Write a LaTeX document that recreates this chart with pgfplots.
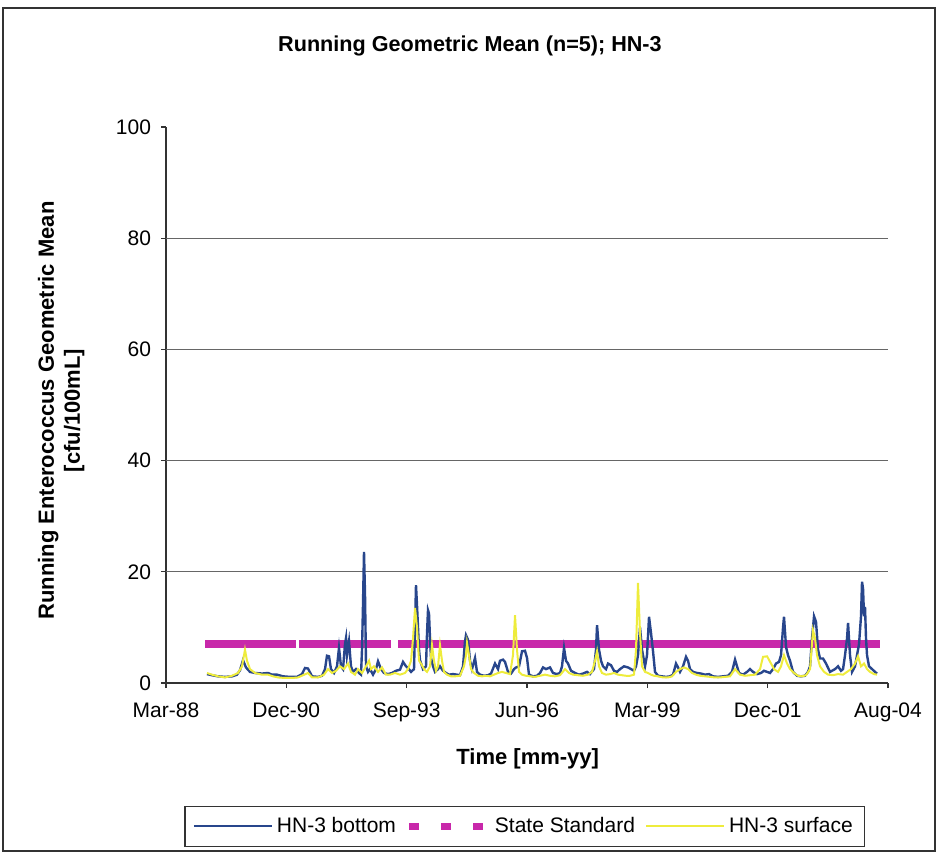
\documentclass[border=0pt]{standalone}
\usepackage{pgfplots}
\pgfplotsset{compat=1.18}
\usepackage{fontspec}
\setmainfont{Liberation Sans}
\definecolor{hnblue}{RGB}{40,70,140}
\definecolor{hnyellow}{RGB}{238,236,60}
\definecolor{stdmag}{RGB}{200,40,170}
\begin{document}
\begin{tikzpicture}
\useasboundingbox (-83bp,-85bp) rectangle (386bp,341.5bp);
\draw[line width=0.8bp, black!80] (-81.5bp,-84bp) rectangle (384.5bp,337.5bp);
\begin{axis}[
  at={(0,0)}, anchor=south west,
  scale only axis, width=361bp, height=278bp,
  xmin=1988.227, xmax=2004.654, ymin=0, ymax=100,
  xtick={1988.227,1990.965,1993.703,1996.441,1999.178,2001.916,2004.654},
  xticklabels={Mar-88,Dec-90,Sep-93,Jun-96,Mar-99,Dec-01,Aug-04},
  ytick={0,20,40,60,80,100},
  extra y ticks={20,40,60,80}, extra y tick labels={},
  extra y tick style={grid=major},
  axis x line*=bottom, axis y line*=left,
  tick align=outside, major tick length=2.5bp,
  tick style={black!80, line width=0.6bp},
  axis line style={black!80, line width=0.6bp},
  grid style={black!60, line width=0.5bp},
  tick label style={font=\fontsize{10.5bp}{12bp}\selectfont},
  /pgf/number format/assume math mode=true,
  yticklabel style={xshift=-1.5bp},
  xticklabel style={yshift=-4bp},
  title={Running Geometric Mean (n=5); HN-3},
  title style={at={(axis description cs:0.421,1.124)}, anchor=center,
    font=\bfseries\fontsize{10.8bp}{13bp}\selectfont},
  xlabel={Time [mm-yy]},
  xlabel style={at={(axis description cs:0.501,-0.136)}, anchor=center,
    font=\bfseries\fontsize{11bp}{13bp}\selectfont},
  ylabel={Running Enterococcus Geometric Mean\\{[cfu/100mL]}},
  ylabel style={at={(axis description cs:-0.145,0.49)}, anchor=center,
    align=center, font=\bfseries\fontsize{11bp}{13bp}\selectfont},
  legend columns=3,
  legend style={at={(axis description cs:0.497,-0.258)}, anchor=center,
    draw=black!80, line width=0.6bp, inner xsep=4bp, inner ysep=3.5bp,
    font=\fontsize{10.5bp}{12bp}\selectfont,
    /tikz/every even column/.append style={column sep=3bp}},
  legend image code/.code={\draw[#1] (0bp,0bp) -- (39bp,0bp);},
  unbounded coords=jump,
]
% State Standard (7 cfu/100mL)
\addplot[stdmag, line width=3.8bp, forget plot] coordinates {
  (1989.117,7) (1991.188,7) (1991.2,nan) (1991.256,7) (1993.349,7)
  (1993.4,nan) (1993.508,7) (2004.474,7)};
\addlegendimage{hnblue, line width=1bp}
\addlegendentry{HN-3 bottom}
\addlegendimage{stdmag, line width=3.5bp, dash pattern=on 5bp off 11bp}
\addlegendentry{State Standard}
\addlegendimage{hnyellow, line width=1bp}
\addlegendentry{HN-3 surface}
% HN-3 bottom
\addplot[hnblue, line width=1.2bp, forget plot] coordinates {
(1989.160,1.6) (1989.274,1.4) (1989.410,1.2) (1989.569,1.1) (1989.729,1.2)
(1989.842,1.5) (1989.911,2.3) (1989.979,4.1) (1990.047,2.8) (1990.138,2.0)
(1990.252,1.8) (1990.411,1.7) (1990.548,1.8) (1990.639,1.5) (1990.753,1.5)
(1990.889,1.2) (1991.048,1.1) (1991.208,1.1) (1991.321,1.6) (1991.390,2.7)
(1991.458,2.6) (1991.549,1.2) (1991.686,1.1) (1991.777,1.3) (1991.845,2.5)
(1991.890,4.9) (1991.936,4.8) (1991.981,2.5) (1992.050,1.8) (1992.118,3.0)
(1992.163,6.3) (1992.209,3.0) (1992.254,2.5) (1992.300,7.0) (1992.323,8.1)
(1992.345,5.0) (1992.391,7.5) (1992.436,3.0) (1992.482,2.0) (1992.550,2.5)
(1992.618,1.8) (1992.664,1.5) (1992.687,6.0) (1992.709,14.0) (1992.732,23.6)
(1992.755,16.0) (1992.778,3.0) (1992.823,2.0) (1992.869,2.5) (1992.937,1.5)
(1993.005,2.5) (1993.051,3.9) (1993.119,2.5) (1993.187,1.8) (1993.278,1.6)
(1993.369,1.8) (1993.460,2.2) (1993.551,2.4) (1993.620,3.8) (1993.688,3.0)
(1993.733,2.7) (1993.802,2.0) (1993.870,2.5) (1993.893,10.0) (1993.915,17.6)
(1993.938,14.0) (1993.984,6.0) (1994.006,4.1) (1994.075,2.5) (1994.143,3.0)
(1994.166,9.0) (1994.188,13.1) (1994.211,12.5) (1994.234,8.0) (1994.257,4.5)
(1994.302,3.0) (1994.348,2.0) (1994.416,2.5) (1994.461,3.0) (1994.530,2.2)
(1994.598,1.8) (1994.666,1.5) (1994.757,1.6) (1994.848,1.5) (1994.916,1.4)
(1994.985,3.0) (1995.030,7.5) (1995.053,8.6) (1995.098,7.8) (1995.144,4.0)
(1995.189,2.5) (1995.258,4.5) (1995.303,2.0) (1995.371,1.5) (1995.462,1.3)
(1995.553,1.4) (1995.622,1.7) (1995.713,3.5) (1995.781,2.5) (1995.826,4.0)
(1995.895,4.2) (1995.940,3.8) (1996.009,2.0) (1996.077,1.7) (1996.145,2.5)
(1996.191,2.8) (1996.259,3.0) (1996.327,5.7) (1996.395,5.8) (1996.441,4.5)
(1996.486,1.5) (1996.577,1.2) (1996.668,1.3) (1996.737,1.8) (1996.805,2.8)
(1996.873,2.5) (1996.964,2.8) (1997.032,1.8) (1997.123,1.6) (1997.192,1.8)
(1997.237,3.0) (1997.283,6.3) (1997.328,4.0) (1997.374,3.5) (1997.442,2.2)
(1997.533,1.8) (1997.624,1.5) (1997.715,1.7) (1997.806,2.0) (1997.874,1.6)
(1997.965,2.5) (1998.011,6.0) (1998.034,10.4) (1998.079,6.0) (1998.125,4.0)
(1998.170,3.0) (1998.238,2.5) (1998.284,3.5) (1998.352,3.2) (1998.420,2.2)
(1998.489,2.0) (1998.557,2.5) (1998.648,3.0) (1998.739,2.8) (1998.807,2.5)
(1998.875,2.2) (1998.921,3.0) (1998.966,5.0) (1999.012,10.0) (1999.057,6.0)
(1999.126,3.0) (1999.171,5.0) (1999.217,11.9) (1999.262,9.0) (1999.308,5.7)
(1999.353,2.0) (1999.422,1.3) (1999.513,1.2) (1999.604,1.1) (1999.695,1.2)
(1999.763,1.5) (1999.831,3.5) (1999.877,2.8) (1999.922,2.0) (1999.990,3.0)
(2000.059,4.7) (2000.104,4.0) (2000.150,2.5) (2000.218,2.0) (2000.309,1.8)
(2000.400,1.7) (2000.491,1.5) (2000.582,1.6) (2000.673,1.2) (2000.787,1.1)
(2000.900,1.2) (2001.014,1.3) (2001.105,2.0) (2001.174,4.2) (2001.219,3.0)
(2001.265,1.8) (2001.356,1.5) (2001.447,2.0) (2001.515,2.5) (2001.583,2.0)
(2001.674,1.6) (2001.765,1.8) (2001.833,2.2) (2001.902,2.0) (2001.970,1.8)
(2002.038,2.5) (2002.106,3.5) (2002.175,3.8) (2002.220,5.0) (2002.266,10.0)
(2002.288,11.9) (2002.334,6.5) (2002.379,5.0) (2002.425,4.0) (2002.493,2.0)
(2002.584,1.3) (2002.675,1.2) (2002.766,1.3) (2002.834,2.0) (2002.880,3.0)
(2002.925,8.0) (2002.971,12.0) (2003.016,11.0) (2003.062,6.0) (2003.107,4.4)
(2003.176,4.4) (2003.244,3.5) (2003.335,2.0) (2003.403,2.3) (2003.449,2.5)
(2003.517,3.0) (2003.585,2.2) (2003.631,2.5) (2003.676,5.0) (2003.722,8.0)
(2003.745,10.8) (2003.790,5.0) (2003.836,2.0) (2003.904,3.0) (2003.949,5.0)
(2003.995,7.0) (2004.040,12.0) (2004.063,18.2) (2004.086,17.0) (2004.109,12.0)
(2004.131,13.7) (2004.154,8.0) (2004.177,5.0) (2004.222,3.0) (2004.291,2.5)
(2004.359,2.0) (2004.404,1.7)};
% HN-3 surface
\addplot[hnyellow, line width=1bp, forget plot] coordinates {
(1989.160,1.8) (1989.274,1.5) (1989.410,1.2) (1989.569,1.0) (1989.729,1.3)
(1989.865,1.8) (1989.956,3.0) (1990.002,5.0) (1990.024,6.0) (1990.070,4.0)
(1990.138,2.5) (1990.252,1.8) (1990.411,1.5) (1990.548,1.5) (1990.662,1.2)
(1990.775,1.0) (1990.935,0.9) (1991.094,0.9) (1991.230,1.0) (1991.344,1.4)
(1991.458,1.8) (1991.549,1.0) (1991.686,1.0) (1991.822,1.5) (1991.913,2.5)
(1992.004,1.8) (1992.095,2.2) (1992.186,3.0) (1992.277,2.5) (1992.368,3.5)
(1992.436,2.0) (1992.527,1.5) (1992.596,2.5) (1992.687,1.8) (1992.778,3.0)
(1992.846,4.0) (1992.891,2.5) (1992.960,3.0) (1993.051,2.0) (1993.142,2.8)
(1993.233,1.5) (1993.324,1.5) (1993.437,1.8) (1993.551,1.5) (1993.665,1.8)
(1993.733,2.5) (1993.802,4.0) (1993.847,8.0) (1993.893,13.5) (1993.938,10.0)
(1993.984,4.0) (1994.029,3.5) (1994.097,2.5) (1994.166,2.0) (1994.234,3.0)
(1994.279,6.8) (1994.325,4.0) (1994.370,2.2) (1994.416,3.0) (1994.461,6.8)
(1994.507,4.0) (1994.552,2.0) (1994.621,1.5) (1994.712,1.2) (1994.803,1.2)
(1994.916,1.3) (1995.007,3.0) (1995.053,5.0) (1995.076,7.2) (1995.121,5.0)
(1995.167,2.5) (1995.235,1.8) (1995.326,1.3) (1995.417,1.2) (1995.508,1.3)
(1995.599,1.2) (1995.690,1.5) (1995.781,1.8) (1995.872,2.0) (1995.963,1.8)
(1996.054,1.6) (1996.122,5.0) (1996.168,12.2) (1996.213,6.0) (1996.259,2.0)
(1996.327,1.5) (1996.418,1.3) (1996.509,1.2) (1996.623,1.1) (1996.737,1.3)
(1996.850,1.5) (1996.964,1.3) (1997.078,1.2) (1997.192,1.4) (1997.305,2.5)
(1997.397,1.8) (1997.488,1.5) (1997.601,1.4) (1997.715,1.3) (1997.829,1.5)
(1997.920,2.0) (1997.988,4.0) (1998.034,5.7) (1998.079,3.0) (1998.147,1.8)
(1998.238,1.5) (1998.329,1.6) (1998.420,1.8) (1998.511,1.5) (1998.602,1.4)
(1998.693,1.3) (1998.784,1.3) (1998.875,1.5) (1998.921,6.0) (1998.966,18.0)
(1999.012,9.0) (1999.057,3.0) (1999.126,2.0) (1999.194,1.8) (1999.262,1.5)
(1999.330,1.3) (1999.422,1.2) (1999.535,1.0) (1999.649,1.0) (1999.740,1.2)
(1999.831,2.0) (1999.922,2.5) (2000.013,2.8) (2000.104,2.5) (2000.195,1.8)
(2000.286,1.5) (2000.377,1.3) (2000.491,1.2) (2000.605,1.1) (2000.718,1.0)
(2000.832,1.0) (2000.946,1.1) (2001.060,1.2) (2001.174,2.5) (2001.287,1.5)
(2001.401,1.3) (2001.515,1.4) (2001.629,1.5) (2001.742,2.5) (2001.811,4.7)
(2001.902,4.8) (2001.993,3.5) (2002.061,2.5) (2002.152,2.0) (2002.220,3.0)
(2002.288,5.0) (2002.357,3.5) (2002.425,2.5) (2002.516,1.8) (2002.607,1.3)
(2002.698,1.2) (2002.789,1.4) (2002.880,2.5) (2002.948,9.5) (2002.994,8.0)
(2003.039,5.0) (2003.107,3.0) (2003.199,2.0) (2003.290,1.5) (2003.403,1.4)
(2003.517,1.6) (2003.631,1.5) (2003.722,2.0) (2003.813,2.5) (2003.904,3.5)
(2003.972,4.8) (2004.040,3.0) (2004.109,3.5) (2004.177,2.5) (2004.245,2.0)
(2004.336,1.6) (2004.404,1.5)};
\end{axis}
\end{tikzpicture}
\end{document}
